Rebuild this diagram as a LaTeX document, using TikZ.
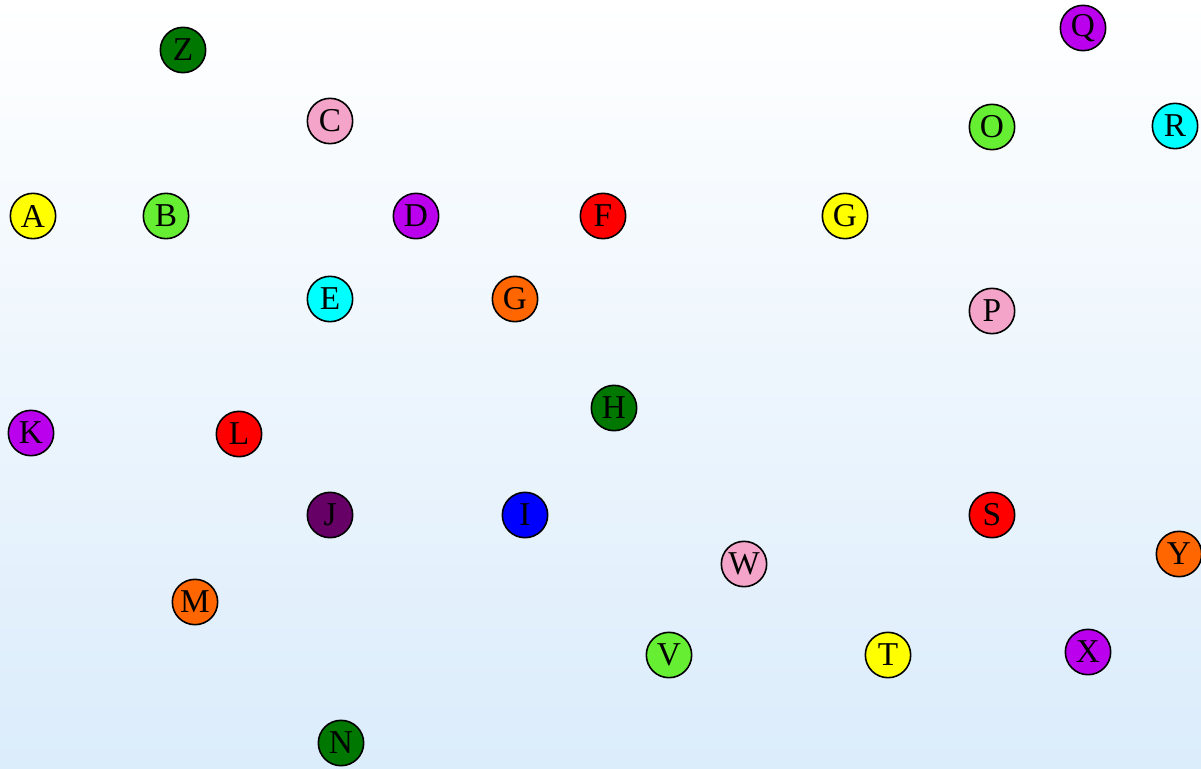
\documentclass[tikz,border=0pt]{standalone}
\usepackage{fontspec}
\setmainfont{Liberation Serif}
\usepackage{tikz}

\definecolor{cyel}{HTML}{FFFF00}
\definecolor{cgrn}{HTML}{66EE33}
\definecolor{cpur}{HTML}{BB00EE}
\definecolor{cpnk}{HTML}{F4A4C8}
\definecolor{ccyn}{HTML}{00FFFF}
\definecolor{cred}{HTML}{FF0000}
\definecolor{corg}{HTML}{FF6600}
\definecolor{cdgr}{HTML}{007700}
\definecolor{cdpu}{HTML}{660066}
\definecolor{cblu}{HTML}{0000FF}
\definecolor{bgtop}{HTML}{FFFFFF}
\definecolor{bgbot}{HTML}{DBECFB}

\begin{document}
\begin{tikzpicture}[
    x=0.75pt, y=-0.75pt,
    nd/.style = {circle, draw=black, line width=1.2pt, minimum size=34pt, inner sep=0pt,
                 font=\fontsize{25}{25}\selectfont, text=black},
    yel/.style = {nd, fill=cyel},
    grn/.style = {nd, fill=cgrn},
    pur/.style = {nd, fill=cpur},
    pnk/.style = {nd, fill=cpnk},
    cyn/.style = {nd, fill=ccyn},
    red/.style = {nd, fill=cred},
    org/.style = {nd, fill=corg},
    dgr/.style = {nd, fill=cdgr},
    dpu/.style = {nd, fill=cdpu},
    blu/.style = {nd, fill=cblu}
  ]

  % --- background ---
  \shade[top color=bgtop, bottom color=bgbot] (0,0) rectangle (1201,768);
  \useasboundingbox (0,0) rectangle (1201,768);

  % --- top rows ---
  \node[dgr] (Z)  at (183,50)   {Z};
  \node[pnk] (C)  at (330,121)  {C};
  \node[pur] (Q)  at (1083,28)  {Q};
  \node[grn] (O)  at (992,127)  {O};
  \node[cyn] (R)  at (1175,126) {R};

  \node[yel] (A)  at (33,216)   {A};
  \node[grn] (B)  at (166,216)  {B};
  \node[pur] (D)  at (416,216)  {D};
  \node[red] (F)  at (603,216)  {F};
  \node[yel] (G)  at (845,216)  {G};

  \node[cyn] (E)  at (330,299)  {E};
  \node[org] (G2) at (515,299)  {G};
  \node[pnk] (P)  at (992,311)  {P};

  % --- middle ---
  \node[dgr] (H)  at (614,408)  {H};
  \node[pur] (K)  at (31,433)   {K};
  \node[red] (L)  at (239,434)  {L};

  \node[dpu] (J)  at (330,515)  {J};
  \node[blu] (I)  at (525,515)  {I};
  \node[red] (S)  at (992,515)  {S};
  \node[org] (Y)  at (1179,554) {Y};
  \node[pnk] (W)  at (744,564)  {W};

  % --- bottom ---
  \node[org] (M)  at (195,602)  {M};
  \node[grn] (V)  at (669,655)  {V};
  \node[yel] (T)  at (888,655)  {T};
  \node[pur] (X)  at (1088,652) {X};
  \node[dgr] (N)  at (341,743)  {N};

\end{tikzpicture}
\end{document}
